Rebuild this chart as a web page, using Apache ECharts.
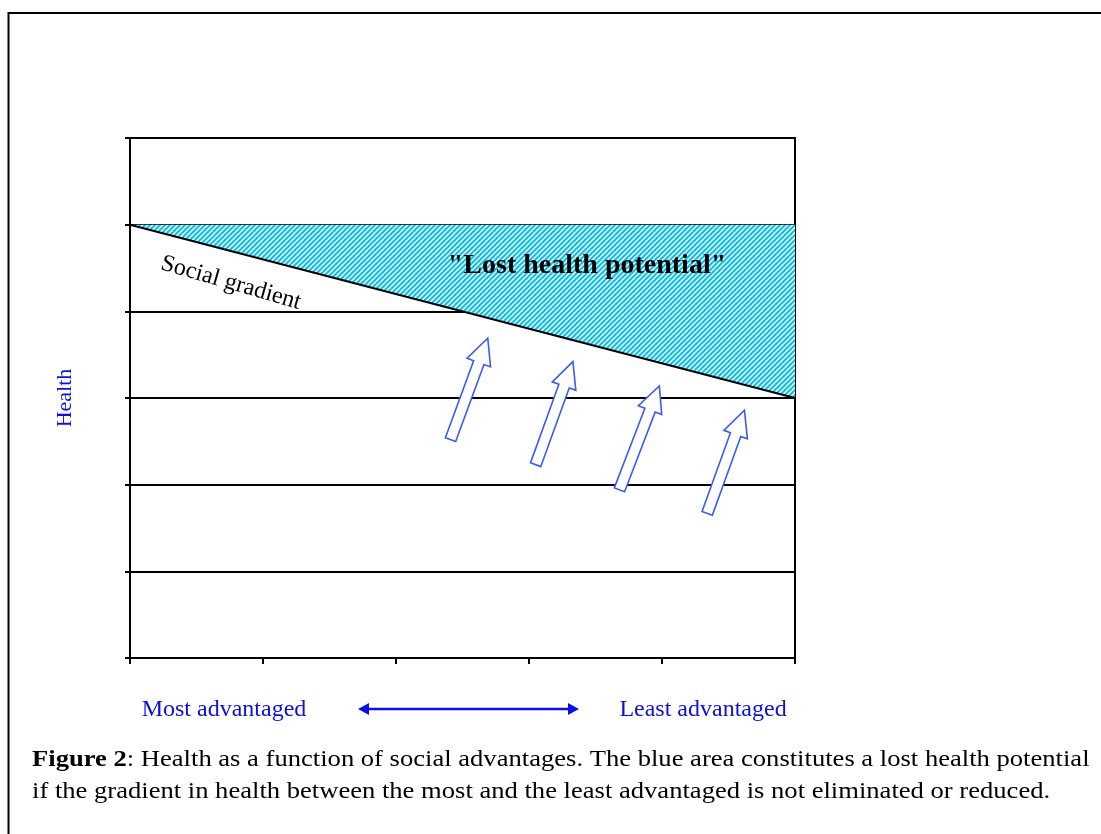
<!DOCTYPE html>
<html>
<head>
<meta charset="utf-8">
<script src="https://cdn.jsdelivr.net/npm/echarts@6/dist/echarts.min.js"></script>
<style>
  html, body { margin: 0; padding: 0; background: #fff; }
  #main { width: 1101px; height: 834px; }
</style>
</head>
<body>
<div id="main"></div>
<script>
// data
const gradX = [0, 5];              // social position (most -> least advantaged)
const gradHealth = [5, 3];         // health along the social gradient
const potential = [5, 5];          // attainable health level
// arrows: [tailX, tailY, tipX, tipY]
const arrows = [
  [2.41, 2.52, 2.69, 3.69],
  [3.05, 2.23, 3.33, 3.42],
  [3.68, 1.94, 3.98, 3.14],
  [4.34, 1.67, 4.62, 2.86]
];

const serif = '"Liberation Serif", "DejaVu Serif", serif';
const blue = '#0a10e0';
const arrowBlue = '#3a5cf2';

// hatch pattern for the "lost" area
function makeHatch() {
  const c = document.createElement('canvas');
  c.width = 5; c.height = 5;
  const ctx = c.getContext('2d');
  ctx.fillStyle = '#ffffff';
  ctx.fillRect(0, 0, 5, 5);
  ctx.strokeStyle = '#00c4f0';
  ctx.lineWidth = 2;
  ctx.beginPath();
  ctx.moveTo(-1, 6); ctx.lineTo(6, -1);
  ctx.moveTo(-1, 1); ctx.lineTo(1, -1);
  ctx.moveTo(4, 6); ctx.lineTo(6, 4);
  ctx.stroke();
  return c;
}
const hatch = makeHatch();

const chart = echarts.init(document.getElementById('main'));

const gradData = gradX.map((x, i) => [x, gradHealth[i]]);
const bandData = gradX.map((x, i) => [x, gradHealth[i], potential[i]]);

// band between the gradient and the potential, one quad per segment
function renderBand(params, api) {
  const i = params.dataIndex;
  if (i >= bandData.length - 1) return null;
  const p = bandData[i], q = bandData[i + 1];
  const pts = [
    api.coord([p[0], p[1]]), api.coord([q[0], q[1]]),
    api.coord([q[0], q[2]]), api.coord([p[0], p[2]])
  ];
  return {
    type: 'polygon',
    shape: { points: pts },
    style: { fill: { image: hatch, repeat: 'repeat' }, stroke: null }
  };
}

function renderArrow(params, api) {
  const a = api.coord([api.value(0), api.value(1)]);
  const b = api.coord([api.value(2), api.value(3)]);
  const dx = b[0] - a[0], dy = b[1] - a[1];
  const len = Math.sqrt(dx * dx + dy * dy);
  const ux = dx / len, uy = dy / len;
  const nx = -uy, ny = ux;
  const w = 5.5, hw = 12.5, hl = 26;
  const bx = b[0] - ux * hl, by = b[1] - uy * hl;
  const pts = [
    [a[0] + nx * w, a[1] + ny * w],
    [bx + nx * w, by + ny * w],
    [bx + nx * hw, by + ny * hw],
    [b[0], b[1]],
    [bx - nx * hw, by - ny * hw],
    [bx - nx * w, by - ny * w],
    [a[0] - nx * w, a[1] - ny * w]
  ];
  return {
    type: 'polygon',
    shape: { points: pts },
    style: { fill: '#fff', stroke: arrowBlue, lineWidth: 1.6 }
  };
}

chart.setOption({
  backgroundColor: '#fff',
  animation: false,
  grid: {
    left: 130, right: 306, top: 138, bottom: 176,
    show: true, borderColor: '#000', borderWidth: 2, backgroundColor: 'transparent'
  },
  xAxis: {
    type: 'value', min: 0, max: 5, interval: 1,
    axisLine: { show: true, lineStyle: { color: '#000', width: 2 } },
    axisTick: { show: true, length: 6, lineStyle: { color: '#000', width: 2 } },
    axisLabel: { show: false },
    splitLine: { show: false }
  },
  yAxis: {
    type: 'value', min: 0, max: 6, interval: 1,
    name: 'Health', nameLocation: 'middle', nameGap: 54,
    nameTextStyle: { color: blue, fontFamily: serif, fontSize: 22 },
    axisLine: { show: true, lineStyle: { color: '#000', width: 2 } },
    axisTick: { show: true, length: 5, lineStyle: { color: '#000', width: 2 } },
    axisLabel: { show: false },
    splitLine: { show: true, lineStyle: { color: '#000', width: 2 } }
  },
  series: [
    {
      name: 'Lost health potential', type: 'custom', data: bandData, z: 3,
      encode: { x: 0, y: [1, 2] },
      renderItem: renderBand
    },
    {
      name: 'Social gradient', type: 'line', data: gradData,
      symbol: 'none', z: 5,
      lineStyle: { color: '#000', width: 2 }
    },
    {
      type: 'custom', data: arrows, z: 6,
      encode: { x: [0, 2], y: [1, 3] },
      renderItem: renderArrow
    }
  ],
  graphic: [
    { type: 'polyline', shape: { points: [[8.5, 834], [8.5, 13], [1101, 13]] },
      style: { stroke: '#000', lineWidth: 2, fill: null }, z: 10 },
    { type: 'text', x: 231, y: 283, rotation: -0.28,
      style: { text: 'Social gradient', font: '24px ' + serif, fill: '#000',
               align: 'center', verticalAlign: 'middle' }, z: 10 },
    { type: 'text', x: 587, y: 266,
      style: { text: '"Lost health potential"', font: 'bold 28px ' + serif, fill: '#000',
               align: 'center', verticalAlign: 'middle' }, z: 10 },
    { type: 'text', x: 224, y: 710,
      style: { text: 'Most advantaged', font: '24px ' + serif, fill: blue,
               align: 'center', verticalAlign: 'middle' } },
    { type: 'text', x: 703, y: 710,
      style: { text: 'Least advantaged', font: '24px ' + serif, fill: blue,
               align: 'center', verticalAlign: 'middle' } },
    { type: 'line', shape: { x1: 366, y1: 709, x2: 570, y2: 709 },
      style: { stroke: blue, lineWidth: 2.5 } },
    { type: 'polygon', shape: { points: [[358, 709], [369, 703], [369, 715]] },
      style: { fill: blue } },
    { type: 'polygon', shape: { points: [[579, 709], [568, 703], [568, 715]] },
      style: { fill: blue } },
    { type: 'text', x: 32, y: 760, scaleX: 1.156,
      style: {
        text: '{b|Figure 2}: Health as a function of social advantages. The blue area constitutes a lost health potential',
        font: '23px ' + serif, fill: '#000', verticalAlign: 'middle',
        rich: { b: { font: 'bold 23px ' + serif, fill: '#000' } }
      } },
    { type: 'text', x: 32, y: 792, scaleX: 1.156,
      style: {
        text: 'if the gradient in health between the most and the least advantaged is not eliminated or reduced.',
        font: '23px ' + serif, fill: '#000', verticalAlign: 'middle'
      } }
  ]
});
</script>
</body>
</html>
